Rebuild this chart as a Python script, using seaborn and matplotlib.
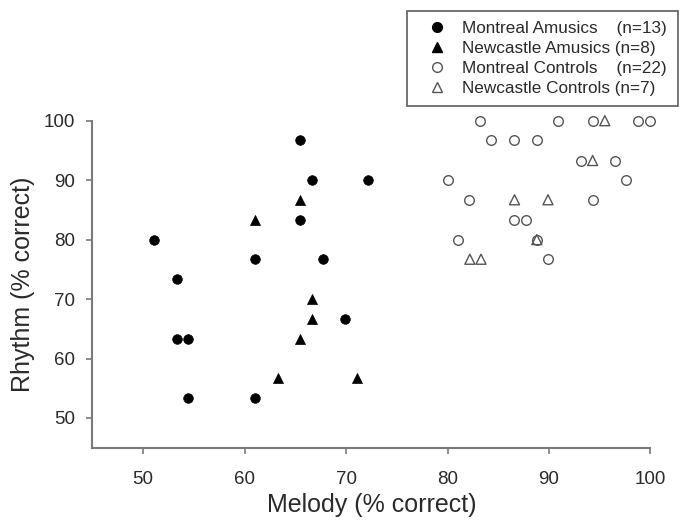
import matplotlib
matplotlib.use("Agg")
import matplotlib.pyplot as plt
from matplotlib.lines import Line2D
import seaborn as sns
import pandas as pd

# ---- data ----
mtl_amus_melody = [65.5, 66.6, 65.5, 51.1, 53.3, 53.3, 54.4, 54.4, 61.0, 61.0, 67.7, 72.2, 69.9]
mtl_amus_rhythm = [96.7, 90.0, 83.3, 80.0, 73.3, 63.3, 63.3, 53.3, 76.7, 53.3, 76.7, 90.0, 66.7]

ncl_amus_melody = [65.5, 61.0, 66.6, 66.6, 65.5, 63.3, 71.1]
ncl_amus_rhythm = [86.7, 83.3, 70.0, 66.7, 63.3, 56.7, 56.7]

mtl_ctrl_melody = [83.2, 90.9, 94.3, 98.8, 100.0,
                   84.3, 86.6, 88.8,
                   93.2, 96.5,
                   80.0, 97.6,
                   82.1, 94.3,
                   86.6, 87.7,
                   81.0, 88.8,
                   89.9]
mtl_ctrl_rhythm = [100.0, 100.0, 100.0, 100.0, 100.0,
                   96.7, 96.7, 96.7,
                   93.3, 93.3,
                   90.0, 90.0,
                   86.7, 86.7,
                   83.3, 83.3,
                   80.0, 80.0,
                   76.7]

ncl_ctrl_melody = [95.5, 94.3, 86.6, 89.9, 88.8, 82.2, 83.3]
ncl_ctrl_rhythm = [100.0, 93.3, 86.7, 86.7, 80.0, 76.7, 76.7]

group_labels = ["Montreal Amusics    (n=13)",
                "Newcastle Amusics (n=8)",
                "Montreal Controls    (n=22)",
                "Newcastle Controls (n=7)"]

# ---- style ----
sns.set_theme(style="white")
plt.rcParams["font.family"] = ["Liberation Sans", "DejaVu Sans"]
text_col = "#2a2a2a"
spine_col = "#7a7a7a"
ctrl_col = "#555555"

fig = plt.figure(figsize=(6.79, 5.22), dpi=100)
ax = fig.add_axes([0.136, 0.1423, 0.822, 0.6265])

groups = [
    (mtl_amus_melody, mtl_amus_rhythm, "o", "black", "black"),
    (ncl_amus_melody, ncl_amus_rhythm, "^", "black", "black"),
    (mtl_ctrl_melody, mtl_ctrl_rhythm, "o", "white", ctrl_col),
    (ncl_ctrl_melody, ncl_ctrl_rhythm, "^", "none", ctrl_col),
]

for (mx, ry, mk, fc, ec), lab in zip(groups, group_labels):
    df = pd.DataFrame({"Melody": mx, "Rhythm": ry})
    sns.scatterplot(data=df, x="Melody", y="Rhythm", ax=ax, marker=mk,
                    s=48 if mk == "o" else 52, facecolor=fc, edgecolor=ec,
                    linewidth=1.0 if fc != "black" else 0.5,
                    legend=False, clip_on=False, zorder=3)

ax.set_xlim(45, 100)
ax.set_ylim(45, 100)
ax.set_xticks([50, 60, 70, 80, 90, 100])
ax.set_yticks([50, 60, 70, 80, 90, 100])
ax.set_xlabel("Melody (% correct)", fontsize=18, color=text_col, labelpad=4)
ax.set_ylabel("Rhythm (% correct)", fontsize=18, color=text_col, labelpad=6)
ax.tick_params(axis="both", labelsize=13.5, colors=text_col, direction="out",
               length=4.5, width=1.2, color=spine_col, bottom=True, left=True)
ax.tick_params(axis="x", pad=12)
ax.tick_params(axis="y", pad=8)
for s in ["top", "right"]:
    ax.spines[s].set_visible(False)
for s in ["left", "bottom"]:
    ax.spines[s].set_color(spine_col)
    ax.spines[s].set_linewidth(1.5)
ax.set_facecolor("white")

handles = [
    Line2D([], [], marker="o", linestyle="none", markerfacecolor="black",
           markeredgecolor="black", markersize=7),
    Line2D([], [], marker="^", linestyle="none", markerfacecolor="black",
           markeredgecolor="black", markersize=7),
    Line2D([], [], marker="o", linestyle="none", markerfacecolor="white",
           markeredgecolor=ctrl_col, markersize=7, markeredgewidth=1.0),
    Line2D([], [], marker="^", linestyle="none", markerfacecolor="white",
           markeredgecolor=ctrl_col, markersize=7, markeredgewidth=1.0),
]
leg = fig.legend(handles, group_labels, loc="upper left",
                 bbox_to_anchor=(0.5999, 0.9795), borderaxespad=0,
                 fontsize=12.3, frameon=True, fancybox=False, labelspacing=0.28,
                 handletextpad=0.4, borderpad=0.62, handlelength=2.2,
                 labelcolor=text_col)
leg.get_frame().set_edgecolor("#444444")
leg.get_frame().set_linewidth(1.3)

fig.savefig("out.png", dpi=100, facecolor="white")
